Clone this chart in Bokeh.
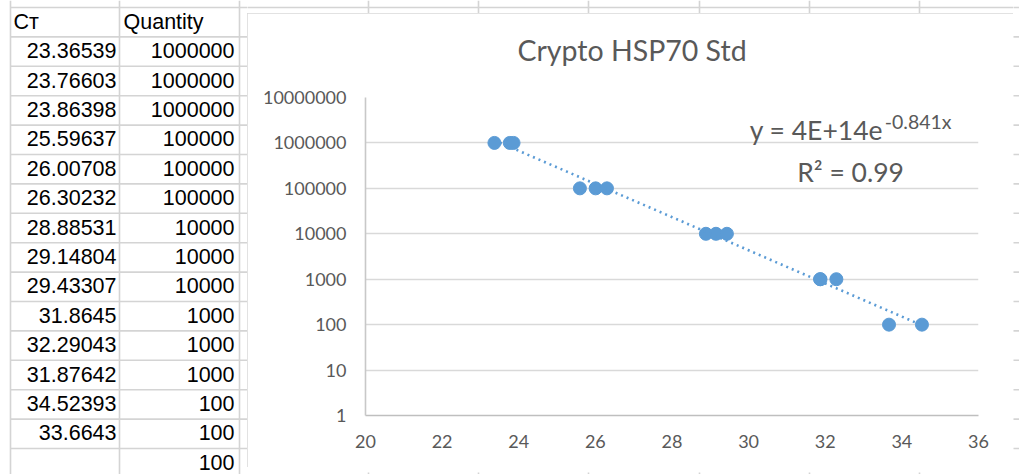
import numpy as np
from bokeh.plotting import figure
from bokeh.layouts import row, column
from bokeh.models import Range1d, FixedTicker, Label, LinearAxis
from bokeh.core.properties import value
from bokeh.embed import file_html
from bokeh.resources import INLINE

# ---------------- data ----------------
ct = [23.36539, 23.76603, 23.86398, 25.59637, 26.00708, 26.30232, 28.88531,
      29.14804, 29.43307, 31.8645, 32.29043, 31.87642, 34.52393, 33.6643]
quantity = [1000000, 1000000, 1000000, 100000, 100000, 100000, 10000,
            10000, 10000, 1000, 1000, 1000, 100, 100, 100]
table_headers = ["Cт", "Quantity"]
x_ticks = [20, 22, 24, 26, 28, 30, 32, 34, 36]
y_ticks = [1, 10, 100, 1000, 10000, 100000, 1000000, 10000000]
y_tick_labels = ["1", "10", "100", "1000", "10000", "100000", "1000000", "10000000"]
chart_title = "Crypto HSP70 Std"
eq_main = "y = 4E+14e"
eq_exp = "-0.841x"
r2_text = "R² = 0.99"

# ---------------- styles ----------------
BLUE = "#5B9BD5"
GREY_TXT = "#595959"
GRID = "#d9d9d9"
CELL = "#d4d4d4"
CHART_FONT = "Lato"
TABLE_FONT = "Liberation Sans"

# ---------------- spreadsheet cell geometry (page pixels) ----------------
ROW_H = 29.4
TOP = 7.0
n_rows = len(quantity) + 1
row_lines = [TOP + ROW_H * k for k in range(n_rows + 1)]
sheet_cols = [10, 119, 239, 368, 478, 588, 699, 809, 919]


def sheet_fig(w, h, x0, y0):
    f = figure(width=w, height=h, x_range=Range1d(x0, x0 + w), y_range=Range1d(y0 + h, y0),
               toolbar_location=None, output_backend="svg", min_border=0, title=None,
               x_axis_location=None, y_axis_location=None)
    f.grid.visible = False
    f.outline_line_color = None
    f.frame_align = False
    f.segment(x0=[sheet_cols[0]] * len(row_lines), y0=row_lines, x1=[1100] * len(row_lines),
              y1=row_lines, line_color=CELL, line_width=1.6)
    f.segment(x0=sheet_cols, y0=[0] * len(sheet_cols), x1=sheet_cols, y1=[480] * len(sheet_cols),
              line_color=CELL, line_width=1.6)
    return f


# ---------------- spreadsheet table (left) ----------------
t = sheet_fig(247, 474, 0, 0)

hdr_y = TOP + ROW_H / 2
t.text(x=[13, 123], y=[hdr_y, hdr_y], text=table_headers, text_align="left",
       text_baseline="middle", text_font=value(TABLE_FONT), text_font_size="21.5px",
       text_color="black")

row_y = [TOP + ROW_H * (k + 1.5) - 1 for k in range(len(quantity))]
ct_txt = [str(v) for v in ct] + [""] * (len(quantity) - len(ct))
q_txt = [str(v) for v in quantity]
t.text(x=[116] * len(row_y), y=row_y, text=ct_txt, text_align="right", text_baseline="middle",
       text_font=value(TABLE_FONT), text_font_size="21.5px", text_color="black")
t.text(x=[234] * len(row_y), y=row_y, text=q_txt, text_align="right", text_baseline="middle",
       text_font=value(TABLE_FONT), text_font_size="21.5px", text_color="black")

top_strip = sheet_fig(766, 13, 247, 0)
bottom_strip = sheet_fig(766, 7, 247, 467)
right_strip = sheet_fig(6, 474, 1013, 0)

# ---------------- chart ----------------
p = figure(width=766, height=454, x_range=Range1d(20, 36), y_range=Range1d(1, 1e7),
           y_axis_type="log", toolbar_location=None, output_backend="svg",
           min_border_left=118, min_border_right=35, min_border_top=84, min_border_bottom=52,
           styles={"outline": "1px solid #d9d9d9", "outline-offset": "-1px"})
p.frame_align = False
p.outline_line_color = None
p.background_fill_color = "white"
p.border_fill_color = "white"

# invisible spacer between the plot area and the title
spacer = LinearAxis(ticker=FixedTicker(ticks=[]), axis_line_color=None,
                    major_tick_line_color=None, minor_tick_line_color=None,
                    major_tick_out=30, major_tick_in=0, minor_tick_out=0,
                    major_label_standoff=0, major_label_text_color=None)
p.add_layout(spacer, "above")

p.title.text = chart_title
p.title.text_font = CHART_FONT
p.title.text_font_size = "28.5px"
p.title.text_font_style = "normal"
p.title.text_color = GREY_TXT
p.title.align = "left"
p.title.offset = 152
p.title.standoff = 2

p.xaxis.ticker = FixedTicker(ticks=x_ticks)
p.yaxis.ticker = FixedTicker(ticks=y_ticks)
p.yaxis.major_label_overrides = {t_: l for t_, l in zip(y_ticks, y_tick_labels)}
for ax in (p.below[0], p.yaxis[0]):
    ax.major_tick_line_color = None
    ax.minor_tick_line_color = None
    ax.major_tick_out = 0
    ax.major_tick_in = 0
    ax.major_label_text_font = CHART_FONT
    ax.major_label_text_font_size = "18px"
    ax.major_label_text_color = GREY_TXT
p.below[0].axis_line_color = "#bfbfbf"
p.below[0].axis_line_width = 1.6
p.below[0].major_label_standoff = 19
p.yaxis.axis_line_color = "#c8c8c8"
p.yaxis.axis_line_width = 1.6
p.yaxis.major_label_standoff = 19

p.xgrid.visible = False
p.ygrid.ticker = FixedTicker(ticks=y_ticks)
p.ygrid.grid_line_color = GRID
p.ygrid.grid_line_width = 1.6

# exponential trendline fitted to the data (as Excel does)
n = len(ct)
m, b = np.polyfit(np.array(ct), np.log(np.array(quantity[:n], dtype=float)), 1)
tx = np.linspace(min(ct), max(ct), 60)
ty = np.exp(b + m * tx)

p.scatter(ct, quantity[:n], size=13, color=BLUE)
p.line(tx, ty, line_color=BLUE, line_width=2.6, line_dash="2 4")

p.add_layout(Label(x=30.03, y=1.97e6, text=eq_main, text_align="left", text_baseline="alphabetic",
                   text_font=CHART_FONT, text_font_size="26.5px", text_color=GREY_TXT))
p.add_layout(Label(x=30.03, y=1.97e6, x_offset=135, y_offset=8, text=eq_exp, text_align="left",
                   text_baseline="alphabetic", text_font=CHART_FONT, text_font_size="19.5px",
                   text_color=GREY_TXT))
p.add_layout(Label(x=32.66, y=2.35e5, text=r2_text, text_align="center", text_baseline="alphabetic",
                   text_font=CHART_FONT, text_font_size="26.5px", text_color=GREY_TXT))

layout = row(t, column(top_strip, p, bottom_strip), right_strip)
open("out.html", "w").write(file_html(layout, INLINE))
